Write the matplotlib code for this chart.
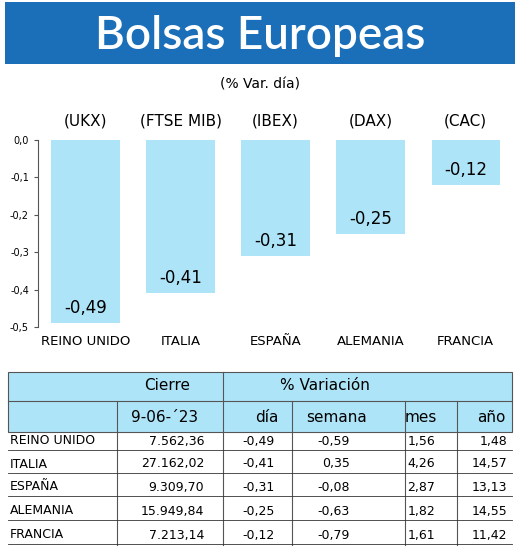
import matplotlib
matplotlib.use("Agg")
import matplotlib.pyplot as plt
from matplotlib.patches import Rectangle

plt.rcParams['font.family'] = ['Liberation Sans Narrow', 'DejaVu Sans']

countries = ["REINO UNIDO", "ITALIA", "ESPAÑA", "ALEMANIA", "FRANCIA"]
tickers = ["(UKX)", "(FTSE MIB)", "(IBEX)", "(DAX)", "(CAC)"]
var_dia = [-0.49, -0.41, -0.31, -0.25, -0.12]
cierre = ["7.562,36", "27.162,02", "9.309,70", "15.949,84", "7.213,14"]
semana = ["-0,59", "0,35", "-0,08", "-0,63", "-0,79"]
mes = ["1,56", "4,26", "2,87", "1,82", "1,61"]
anio = ["1,48", "14,57", "13,13", "14,55", "11,42"]
yticks = [0.0, -0.1, -0.2, -0.3, -0.4, -0.5]

W, H = 520, 551
fig = plt.figure(figsize=(W / 100, H / 100), dpi=100)
fig.patch.set_facecolor("white")

def fx(x):
    return x / W

def fy(y):
    return 1 - y / H

blue = "#1b6fb8"
light = "#aee4f7"

# title banner
fig.patches.append(Rectangle((fx(5), fy(64)), fx(510), 62 / H, transform=fig.transFigure,
                             facecolor=blue, edgecolor="none"))
fig.text(0.5, fy(36), "Bolsas Europeas", color="white", fontsize=33, ha="center", va="center",
         family=["Lato", "DejaVu Sans"], fontweight="semibold")
fig.text(0.5, fy(84), "(% Var. día)", fontsize=10, ha="center", va="center")

# bar chart
ax = fig.add_axes([fx(38), fy(327), fx(480), 187 / H])
x = list(range(len(countries)))
ax.bar(x, var_dia, width=0.72, color=light, edgecolor="none")
ax.set_ylim(-0.5, 0)
ax.set_xlim(-0.5, 4.55)
ax.set_yticks(yticks)
ax.set_yticklabels([f"{v:.1f}".replace(".", ",") for v in yticks], fontsize=7)
ax.set_xticks([])
for s in ["top", "right", "bottom"]:
    ax.spines[s].set_visible(False)
ax.spines["left"].set_color("#555555")
ax.tick_params(axis="y", length=3, color="#555555")
for xi, v, c, t in zip(x, var_dia, countries, tickers):
    ax.text(xi, v + 0.04, f"{v:.2f}".replace(".", ","), ha="center", va="center", fontsize=12)
    ax.text(xi, -0.54, c, ha="center", va="center", fontsize=9.5, clip_on=False)
    ax.text(xi, 0.05, t, ha="center", va="center", fontsize=11, clip_on=False)

# table
tl, tr = 8, 512
lc = "#555555"
fig.patches.append(Rectangle((fx(tl), fy(432)), fx(tr - tl), 60 / H, transform=fig.transFigure,
                             facecolor=light, edgecolor=lc, lw=0.8))
fig.add_artist(plt.Line2D([fx(tl), fx(tr)], [fy(401), fy(401)], color=lc, lw=0.8))
fig.add_artist(plt.Line2D([fx(117), fx(117)], [fy(401), fy(545)], color=lc, lw=0.8))
fig.add_artist(plt.Line2D([fx(223), fx(223)], [fy(372), fy(545)], color=lc, lw=0.8))
for cx in [292, 405, 457]:
    fig.add_artist(plt.Line2D([fx(cx), fx(cx)], [fy(401), fy(545)], color=lc, lw=0.8))
fig.text(fx(167), fy(386), "Cierre", fontsize=11, ha="center", va="center")
fig.text(fx(325), fy(386), "% Variación", fontsize=11, ha="center", va="center")
fig.text(fx(198), fy(417), "9-06-´23", fontsize=11, ha="right", va="center")
for label, rx in zip(["día", "semana", "mes", "año"], [278, 367, 437, 506]):
    fig.text(fx(rx), fy(417), label, fontsize=11, ha="right", va="center")

row_y = [441, 464, 487, 511, 535]
for i, yy in enumerate(row_y):
    fs = 9
    fig.text(fx(10), fy(yy), countries[i], fontsize=fs, ha="left", va="center")
    fig.text(fx(204), fy(yy), cierre[i], fontsize=fs, ha="right", va="center")
    fig.text(fx(275), fy(yy), f"{var_dia[i]:.2f}".replace(".", ","), fontsize=fs, ha="right", va="center")
    fig.text(fx(350), fy(yy), semana[i], fontsize=fs, ha="right", va="center")
    fig.text(fx(435), fy(yy), mes[i], fontsize=fs, ha="right", va="center")
    fig.text(fx(507), fy(yy), anio[i], fontsize=fs, ha="right", va="center")
    fig.add_artist(plt.Line2D([fx(tl), fx(tr)], [fy(yy + 9), fy(yy + 9)], color="#333333", lw=0.6))

fig.savefig("out.png", dpi=100)
